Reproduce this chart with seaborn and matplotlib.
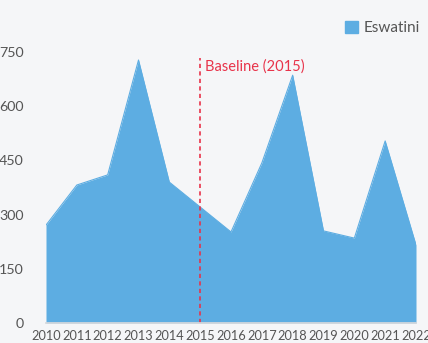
import pandas as pd
import seaborn as sns
import matplotlib.pyplot as plt

# dados
anos = [2010, 2011, 2012, 2013, 2014, 2015, 2016, 2017, 2018, 2019, 2020, 2021, 2022]
valores = [271, 382, 410, 728, 390, 321, 252, 443, 686, 255, 235, 504, 216]
ano_base = 2015
rotulo_base = 'Baseline (2015)'
pais = 'Eswatini'
yticks = [0, 150, 300, 450, 600, 750]

df = pd.DataFrame({'ano': anos, 'valor': valores})

sns.set_theme(style='white')
plt.rcParams['font.family'] = ['Lato', 'DejaVu Sans']

cor_area = '#5DADE2'
cor_fundo = '#F5F6F8'
cor_texto = '#555555'

fig = plt.figure(figsize=(4.28, 3.43), dpi=100, facecolor=cor_fundo)
ax = fig.add_axes([46/428, 20/343, 370/428, 289/343])
ax.set_facecolor(cor_fundo)

sns.lineplot(data=df, x='ano', y='valor', ax=ax, color=cor_area, linewidth=0.8)
ax.fill_between(df['ano'], df['valor'], color=cor_area, label=pais, linewidth=0)

ax.set_xlim(2010, 2022)
ax.set_ylim(0, 800)
ax.axvline(ano_base, ymin=0, ymax=733/800, color='#E8334A', linestyle=(0, (2.5, 2)), linewidth=1.2)
ax.text(ano_base + 0.17, 711, rotulo_base, color='#E8334A', fontsize=10.5, va='center')

ax.set_xticks(anos)
ax.set_yticks(yticks)
ax.tick_params(axis='x', colors=cor_texto, labelsize=9.2, length=3, color='#D5D8DC', pad=2)
ax.tick_params(axis='y', colors=cor_texto, labelsize=10.3, length=0, pad=16)
for s in ['top', 'right', 'left']:
    ax.spines[s].set_visible(False)
ax.spines['bottom'].set_color('#D5D8DC')
ax.set_xlabel('')
ax.set_ylabel('')

leg = ax.legend(handles=[plt.Rectangle((0, 0), 1, 1, color=cor_area)], labels=[pais],
                loc='lower right', bbox_to_anchor=(1.035, 0.965), frameon=False, fontsize=11,
                handlelength=0.85, handleheight=0.85, handletextpad=0.35, borderaxespad=0.2)
for t in leg.get_texts():
    t.set_color(cor_texto)

plt.savefig('out.png', dpi=100, facecolor=cor_fundo)
